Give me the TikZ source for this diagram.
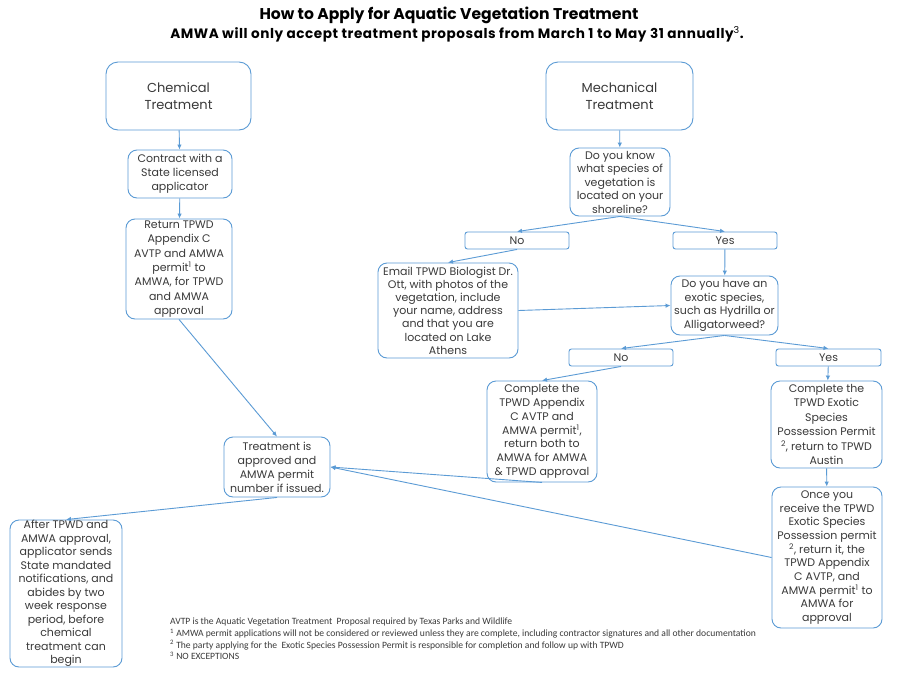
\documentclass[tikz,border=0pt]{standalone}
\usepackage{fontspec}
\setmainfont{Poppins}
\newfontfamily\fnfont{Carlito}
\newfontfamily\subfont[LetterSpace=4]{Poppins}
\usetikzlibrary{arrows.meta}
\definecolor{bl}{HTML}{5B9BD5}
\definecolor{tx}{HTML}{3A3A3A}
\begin{document}
\begin{tikzpicture}[x=1pt,y=-1pt,
 box/.style={draw=bl, line width=0.9pt, rounded corners=9pt, align=center, inner sep=0pt, text=tx, font=\fontsize{11}{13.8}\selectfont},
 bigbox/.style={box, rounded corners=12pt, font=\fontsize{13}{16.5}\selectfont},
 yn/.style={box, rounded corners=2.5pt},
 arr/.style={draw=bl, line width=0.9pt, -{Latex[length=5pt,width=4.5pt]}},
 fn/.style={anchor=west, inner sep=0pt, text=tx, font=\fnfont\fontsize{9.6}{11}\selectfont}]
\useasboundingbox[fill=white] (0,0) rectangle (900,675);
% titles
\node[font=\bfseries\fontsize{15.6}{18}\selectfont] (title) at (449,15) {How to Apply for Aquatic Vegetation Treatment};
\node[font=\subfont\bfseries\fontsize{13.6}{15}\selectfont] (subtitle) at (457,34) {AMWA will only accept treatment proposals from March 1 to May 31 annually\textsuperscript{\mdseries 3}.};
% chemical side
\node[bigbox, minimum width=145pt, minimum height=68pt] (chem) at (178.5,96) {Chemical\\Treatment};
\node[box, minimum width=104pt, minimum height=48pt, font=\fontsize{11}{14}\selectfont] (contract) at (180,174) {Contract with a\\State licensed\\applicator};
\node[box, minimum width=106pt, minimum height=100pt, font=\fontsize{11}{14.3}\selectfont] (ret) at (179,269) {Return TPWD\\Appendix C\\AVTP and AMWA\\permit\textsuperscript{1} to\\AMWA, for TPWD\\and AMWA\\approval};
\node[box, minimum width=106pt, minimum height=60pt, font=\fontsize{11}{14}\selectfont] (treat) at (277,467) {Treatment is\\approved and\\AMWA permit\\number if issued.};
\node[box, minimum width=112pt, minimum height=147pt, font=\fontsize{11}{13.5}\selectfont] (after) at (66,593.5) {After TPWD and\\AMWA approval,\\applicator sends\\State mandated\\notifications, and\\abides by two\\week response\\period, before\\chemical\\treatment can\\begin};
% mechanical side
\node[bigbox, minimum width=147pt, minimum height=68pt] (mech) at (619.5,96) {Mechanical\\Treatment};
\node[box, minimum width=100pt, minimum height=68pt, font=\fontsize{11}{13.5}\selectfont] (know) at (620,182) {Do you know\\what species of\\vegetation is\\located on your\\shoreline?};
\node[yn, minimum width=104pt, minimum height=17pt] (no1) at (517,240.5) {No};
\node[yn, minimum width=104pt, minimum height=17pt] (yes1) at (725,240.5) {Yes};
\node[box, minimum width=140pt, minimum height=95pt, font=\fontsize{11}{13.2}\selectfont] (email) at (448,310.5) {Email TPWD Biologist Dr.\\Ott, with photos of the\\vegetation, include\\your name, address\\and that you are\\located on Lake\\Athens};
\node[box, minimum width=107pt, minimum height=59pt, font=\fontsize{11}{13.7}\selectfont] (have) at (724.5,305.5) {Do you have an\\exotic species,\\such as Hydrilla or\\Alligatorweed?};
\node[yn, minimum width=104pt, minimum height=17pt] (no2) at (621,357.5) {No};
\node[yn, minimum width=105pt, minimum height=17pt] (yes2) at (828.5,357.5) {Yes};
\node[box, minimum width=110pt, minimum height=101pt, font=\fontsize{11}{13.8}\selectfont] (compapp) at (542,431.5) {Complete the\\TPWD Appendix\\C AVTP and\\AMWA permit\textsuperscript{1},\\return both to\\AMWA for AMWA\\\& TPWD approval};
\node[box, minimum width=111pt, minimum height=87pt, font=\fontsize{11}{14.4}\selectfont] (compexo) at (826.5,424.5) {Complete the\\TPWD Exotic\\Species\\Possession Permit\\\textsuperscript{2}, return to TPWD\\Austin};
\node[box, minimum width=110pt, minimum height=141pt, font=\fontsize{11}{13.7}\selectfont] (once) at (827,557.5) {Once you\\receive the TPWD\\Exotic Species\\Possession permit\\\textsuperscript{2}, return it, the\\TPWD Appendix\\C AVTP, and\\AMWA permit\textsuperscript{1} to\\AMWA for\\approval};
% connectors
\draw[arr] (chem) -- (contract);
\draw[arr] (contract) -- (ret);
\draw[arr] (ret.south) -- (treat.north);
\draw[arr] (treat.south) -- (after.north);
\draw[arr] (mech) -- (know);
\draw[arr] (know.south) -- (no1.north);
\draw[arr] (know.south) -- (yes1.north);
\draw[arr] (no1.south) -- (email.north);
\draw[arr] (email.east) -- (have.west);
\draw[arr] (yes1) -- (have);
\draw[arr] (have.south) -- (no2.north);
\draw[arr] (have.south) -- (yes2.north);
\draw[arr] (no2.south) -- (compapp.north);
\draw[arr] (yes2) -- (compexo);
\draw[arr] (compexo) -- (once);
\draw[arr] (compapp.south) -- (treat.east);
\draw[arr] (once.west) -- (treat.east);
% footnotes
\node[fn] (f0) at (170,622) {AVTP is the Aquatic Vegetation Treatment\ \ Proposal required by Texas Parks and Wildlife};
\node[fn] (f1) at (170,633.5) {\textsuperscript{1}\ AMWA permit applications will not be considered or reviewed unless they are complete, including contractor signatures and all other documentation};
\node[fn] (f2) at (170,645) {\textsuperscript{2} The party applying for the\ \ Exotic Species Possession Permit is responsible for completion and follow up with TPWD};
\node[fn] (f3) at (170,656) {\textsuperscript{3} NO EXCEPTIONS};
\end{tikzpicture}
\end{document}
